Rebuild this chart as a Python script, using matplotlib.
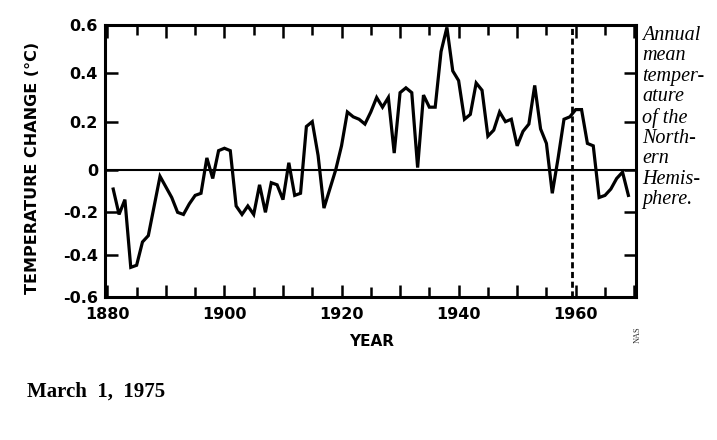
import numpy as np
import matplotlib
matplotlib.use('Agg')
from matplotlib import pyplot as plt
from matplotlib.ticker import FixedLocator, MultipleLocator, FuncFormatter

# annual mean temperature change, northern hemisphere
years = list(range(1881, 1970))
temp_change = [
    -0.09, -0.21, -0.14, -0.46, -0.45, -0.34, -0.31, -0.17, -0.03, -0.08,   # 1881-1890
    -0.13, -0.20, -0.21, -0.16, -0.12, -0.11, 0.05, -0.04, 0.08, 0.09,      # 1891-1900
    0.08, -0.17, -0.21, -0.17, -0.21, -0.07, -0.20, -0.06, -0.07, -0.14,    # 1901-1910
    0.03, -0.12, -0.11, 0.18, 0.20, 0.06, -0.18, -0.09, 0.00, 0.10,         # 1911-1920
    0.24, 0.22, 0.21, 0.19, 0.24, 0.30, 0.26, 0.30, 0.07, 0.32,             # 1921-1930
    0.34, 0.32, 0.01, 0.31, 0.26, 0.26, 0.49, 0.59, 0.41, 0.37,             # 1931-1940
    0.21, 0.23, 0.36, 0.33, 0.14, 0.165, 0.24, 0.20, 0.21, 0.10,            # 1941-1950
    0.16, 0.19, 0.35, 0.17, 0.11, -0.11, 0.05, 0.21, 0.22, 0.25,            # 1951-1960
    0.25, 0.11, 0.10, -0.13, -0.12, -0.09, -0.04, -0.01, -0.12,             # 1961-1969
]
marker_year = 1959.3
ytick_vals = [0.6, 0.4, 0.2, 0.0, -0.2, -0.4, -0.6]

side_text = "Annual\nmean\ntemper-\nature\nof the\nNorth-\nern\nHemis-\nphere."

# the printed axis is a bit squashed below zero
k = 127 / 145.


def fwd(y):
    y = np.asarray(y, dtype=float)
    return np.where(y >= 0, y, y * k)


def inv(y):
    y = np.asarray(y, dtype=float)
    return np.where(y >= 0, y, y / k)


fig = plt.figure(figsize=(7.17, 4.40), dpi=100)
ax = fig.add_axes([105 / 717, 1 - 297 / 440, 531 / 717, 272 / 440])
ax.set_yscale('function', functions=(fwd, inv))

ax.plot(years, temp_change, color='black', lw=2.3, solid_joinstyle='miter')
ax.axhline(0, color='black', lw=1.5)
ax.axvline(marker_year, color='black', lw=2.0, linestyle=(0, (2.2, 1.3)))

ax.set_xlim(1879.6, 1970.3)
ax.set_ylim(-0.6, 0.6)

ax.xaxis.set_major_locator(MultipleLocator(10))
ax.xaxis.set_minor_locator(MultipleLocator(5))
ax.xaxis.set_major_formatter(FuncFormatter(lambda v, p: '%d' % v if int(round(v)) % 20 == 0 else ''))
ax.yaxis.set_major_locator(FixedLocator(ytick_vals))
ax.yaxis.set_minor_locator(FixedLocator([]))
ax.yaxis.set_major_formatter(FuncFormatter(lambda v, p: '0' if abs(v) < 1e-9 else '%.1f' % v))

for s in ax.spines.values():
    s.set_linewidth(2.2)

ax.tick_params(which='both', direction='in', top=True, right=True, width=1.8, colors='black')
ax.tick_params(axis='x', which='major', length=9, pad=7)
ax.tick_params(axis='x', which='minor', length=7)
ax.tick_params(axis='y', which='major', length=9, pad=5)
for lab in ax.get_xticklabels() + ax.get_yticklabels():
    lab.set_fontfamily('DejaVu Sans')
    lab.set_fontweight('bold')
    lab.set_fontsize(11.5)

fig.text(33 / 717, 1 - 167.5 / 440, 'TEMPERATURE CHANGE (°C)', rotation=90,
         ha='center', va='center', fontsize=11.5, fontweight='bold', family='DejaVu Sans')
fig.text(372 / 717, 1 - 342 / 440, 'YEAR', ha='center', va='center',
         fontsize=11, fontweight='bold', family='DejaVu Sans')

fig.text(642 / 717, 1 - 26 / 440, side_text, ha='left', va='top', fontsize=14.5,
         family='Liberation Serif', style='italic', linespacing=1.1)

fig.text(638 / 717, 1 - 335 / 440, 'NAS', rotation=90, ha='center', va='center',
         fontsize=6, family='Liberation Serif', color='#333333')

fig.text(27 / 717, 1 - 392 / 440, 'March  1,  1975', ha='left', va='center',
         fontsize=15, fontweight='bold', family='Liberation Serif')

fig.savefig('out.png', dpi=100)
